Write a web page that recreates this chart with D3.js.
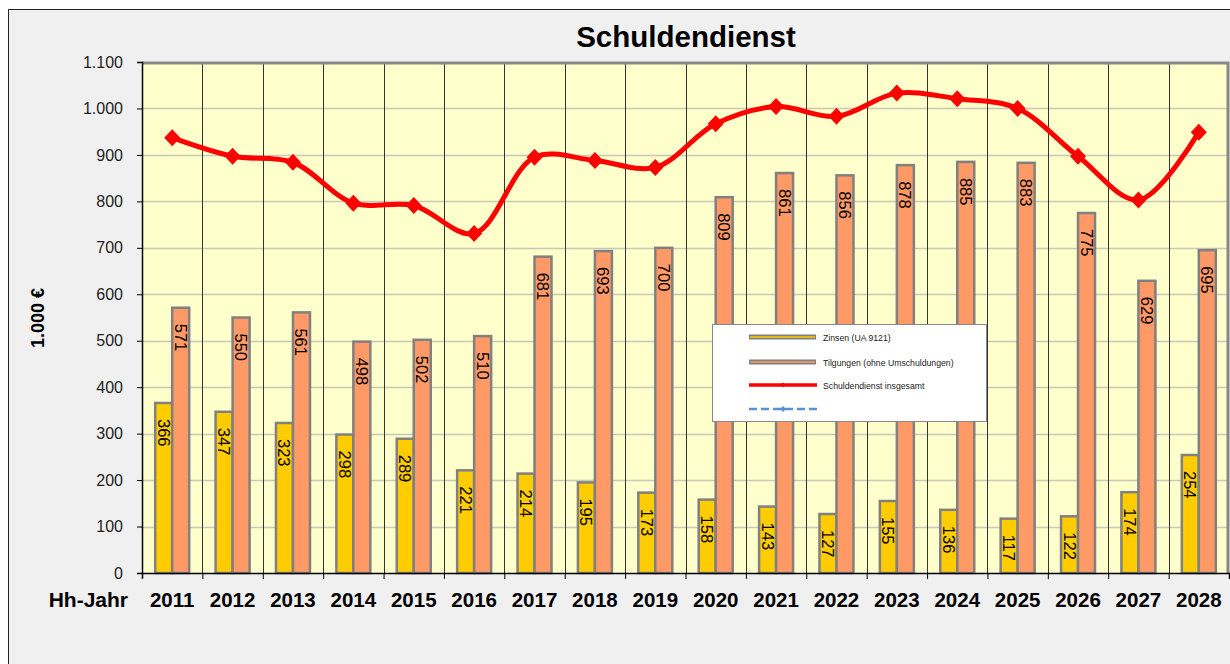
<!DOCTYPE html>
<html>
<head>
<meta charset="utf-8">
<script src="https://cdn.jsdelivr.net/npm/d3@7"></script>
<style>
  body { margin: 0; background: #fff; }
  svg { display: block; font-family: "Liberation Sans", Arial, sans-serif; }
</style>
</head>
<body>
<svg id="chart"></svg>
<script>
var years = ["2011","2012","2013","2014","2015","2016","2017","2018","2019","2020","2021","2022","2023","2024","2025","2026","2027","2028"];
var zinsen = [366,347,323,298,289,221,214,195,173,158,143,127,155,136,117,122,174,254];
var tilgungen = [571,550,561,498,502,510,681,693,700,809,861,856,878,885,883,775,629,695];
var gesamt = [937,897,884,796,791,731,895,888,873,967,1004,983,1033,1021,1000,897,803,949];
var yTicks = [0,100,200,300,400,500,600,700,800,900,1000,1100];
var legendItems = ["Zinsen (UA 9121)", "Tilgungen (ohne Umschuldungen)", "Schuldendienst insgesamt", ""];

var W = 1230, H = 664;
var svg = d3.select("#chart").attr("width", W).attr("height", H);

// chart frame
svg.append("rect").attr("x", 8.5).attr("y", 9.5).attr("width", W + 10).attr("height", H + 10)
   .attr("fill", "#f0f0f0").attr("stroke", "#222").attr("stroke-width", 1);

var margin = {top: 62, left: 142, right: 1229, bottom: 573};

var x = d3.scaleBand().domain(years).range([margin.left, margin.right]);
var y = d3.scaleLinear().domain([0, 1100]).range([margin.bottom, margin.top]);

// plot background
svg.append("rect").attr("x", margin.left).attr("y", margin.top)
   .attr("width", margin.right - margin.left).attr("height", margin.bottom - margin.top)
   .attr("fill", "#ffffcc");

// horizontal grid
svg.append("g").selectAll("line").data(yTicks.slice(1, -1)).enter().append("line")
   .attr("x1", margin.left).attr("x2", margin.right)
   .attr("y1", function(d) { return Math.round(y(d)) + 0.5; })
   .attr("y2", function(d) { return Math.round(y(d)) + 0.5; })
   .attr("stroke", "#c8c8b8").attr("stroke-width", 1.5);

// vertical grid at category boundaries
svg.append("g").selectAll("line").data(years.slice(1)).enter().append("line")
   .attr("x1", function(d) { return Math.round(x(d)) + 0.5; })
   .attr("x2", function(d) { return Math.round(x(d)) + 0.5; })
   .attr("y1", margin.top).attr("y2", margin.bottom)
   .attr("stroke", "#333").attr("stroke-width", 1);

// plot border top/right (gray)
svg.append("path")
   .attr("d", "M" + margin.left + "," + (margin.top + 1) + "H" + (margin.right - 1) + "V" + margin.bottom)
   .attr("fill", "none").attr("stroke", "#888").attr("stroke-width", 3);

var bw = 17;
function barX(d, i, k) { return x(years[i]) + x.bandwidth() / 2 - bw + k * bw; }

// bars
var bars = svg.append("g");
bars.selectAll(".z").data(zinsen).enter().append("rect")
    .attr("x", function(d, i) { return barX(d, i, 0); })
    .attr("y", function(d) { return y(d); })
    .attr("width", bw).attr("height", function(d) { return y(0) - y(d); })
    .attr("fill", "#ffcc00").attr("stroke", "#808080").attr("stroke-width", 2.5);
bars.selectAll(".t").data(tilgungen).enter().append("rect")
    .attr("x", function(d, i) { return barX(d, i, 1); })
    .attr("y", function(d) { return y(d); })
    .attr("width", bw).attr("height", function(d) { return y(0) - y(d); })
    .attr("fill", "#ff9966").attr("stroke", "#808080").attr("stroke-width", 2.5);

// bar labels (rotated)
function addLabels(data, k) {
  svg.append("g").selectAll("text").data(data).enter().append("text")
     .attr("transform", function(d, i) {
        return "translate(" + (barX(d, i, k) + bw / 2) + "," + (y(d) + 16) + ") rotate(90)";
     })
     .attr("dominant-baseline", "central")
     .attr("font-size", 16.5).attr("fill", "#000")
     .text(function(d) { return d; });
}
addLabels(zinsen, 0);
addLabels(tilgungen, 1);

// total line
var pts = gesamt.map(function(d, i) { return [x(years[i]) + x.bandwidth() / 2, y(d)]; });
svg.append("path").datum(pts)
   .attr("d", d3.line().curve(d3.curveCatmullRom.alpha(0.5)))
   .attr("fill", "none").attr("stroke", "#ff0000").attr("stroke-width", 5);
svg.append("g").selectAll("path").data(pts).enter().append("path")
   .attr("transform", function(d) { return "translate(" + d[0] + "," + d[1] + ")"; })
   .attr("d", "M0,-8.5L8,0L0,8.5L-8,0Z").attr("fill", "#ff0000");

// axes
svg.append("g").attr("transform", "translate(" + margin.left + ",0)")
   .call(d3.axisLeft(y).tickValues(yTicks).tickSize(5).tickPadding(14)
        .tickFormat(function(d) { return d3.format(",")(d).replace(/,/g, "."); }))
   .call(function(g) {
      g.select(".domain").attr("stroke", "#000").attr("stroke-width", 1.5);
      g.selectAll("text").attr("font-size", 16).attr("fill", "#222").attr("font-family", "Liberation Sans, Arial");
   });

var xb = d3.scaleLinear().domain([0, years.length]).range([margin.left, margin.right]);
svg.append("g").attr("transform", "translate(0," + margin.bottom + ")")
   .call(d3.axisBottom(xb).tickValues(d3.range(0, years.length)).tickSize(6).tickFormat(""))
   .call(function(g) {
      g.select(".domain").attr("stroke", "#000").attr("stroke-width", 1.5);
   });

svg.append("g").selectAll("text").data(years).enter().append("text")
   .attr("x", function(d) { return x(d) + x.bandwidth() / 2; })
   .attr("y", 607).attr("text-anchor", "middle")
   .attr("font-size", 20.5).attr("font-weight", "bold").text(function(d) { return d; });

svg.append("text").attr("x", 128).attr("y", 607).attr("text-anchor", "end")
   .attr("font-size", 21).attr("font-weight", "bold").text("Hh-Jahr");

svg.append("text").attr("transform", "translate(44,318) rotate(-90)").attr("text-anchor", "middle")
   .attr("font-size", 18).attr("font-weight", "bold").text("1.000 €");

svg.append("text").attr("x", 686).attr("y", 47).attr("text-anchor", "middle")
   .attr("font-size", 29.5).attr("font-weight", "bold").text("Schuldendienst");

// legend
var lg = svg.append("g").attr("transform", "translate(712,324)");
lg.append("rect").attr("x", 0.5).attr("y", 0.5).attr("width", 274).attr("height", 97)
  .attr("fill", "#fff").attr("stroke", "#888");
var rowY = [13, 38, 61, 85];
lg.selectAll(".it").data(legendItems).enter().append("text")
  .attr("x", 111).attr("y", function(d, i) { return rowY[i] + 3.5; })
  .attr("font-size", 8.7).attr("fill", "#222").text(function(d) { return d; });
[["#808080", "#ffcc00"], ["#808080", "#ff9966"]].forEach(function(c, i) {
  lg.append("line").attr("x1", 37).attr("x2", 104).attr("y1", rowY[i]).attr("y2", rowY[i])
    .attr("stroke", c[0]).attr("stroke-width", 5);
  lg.append("line").attr("x1", 38).attr("x2", 103).attr("y1", rowY[i]).attr("y2", rowY[i])
    .attr("stroke", c[1]).attr("stroke-width", 1.5);
});
lg.append("line").attr("x1", 37).attr("x2", 105).attr("y1", rowY[2]).attr("y2", rowY[2])
  .attr("stroke", "#ff0000").attr("stroke-width", 3.5);
lg.append("path").attr("d", "M71," + (rowY[2] - 2.5) + "l2.5,2.5l-2.5,2.5l-2.5,-2.5z").attr("fill", "#ff0000");
lg.append("line").attr("x1", 37).attr("x2", 105).attr("y1", rowY[3]).attr("y2", rowY[3])
  .attr("stroke", "#5b8fd6").attr("stroke-width", 2.5).attr("stroke-dasharray", "8,4");
lg.append("path").attr("d", "M71," + (rowY[3] - 3) + "l3,3l-3,3l-3,-3z").attr("fill", "#5b8fd6");
</script>
</body>
</html>
